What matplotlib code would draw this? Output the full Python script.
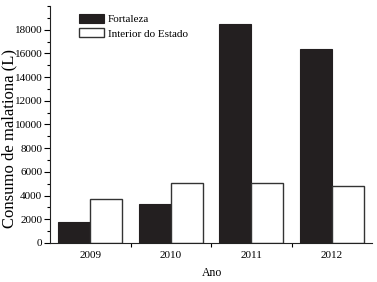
import numpy as np
import matplotlib.pyplot as plt
from matplotlib.ticker import MultipleLocator

anos = ['2009', '2010', '2011', '2012']
fortaleza = [1800, 3300, 18450, 16350]
interior = [3700, 5100, 5050, 4800]

plt.rcParams['font.family'] = 'Liberation Serif'

fig = plt.figure(figsize=(3.77, 2.82), dpi=100)
ax = fig.add_axes([50/377, 1-243/282, 322/377, 237/282])

x = np.arange(len(anos))
w = 0.4
ax.bar(x - w/2, fortaleza, w, color='#231f20', edgecolor='#231f20', linewidth=0.8, label='Fortaleza')
ax.bar(x + w/2, interior, w, color='white', edgecolor='#333333', linewidth=1.0, label='Interior do Estado')

ax.set_xlim(-0.5, len(anos) - 0.5)
ax.set_ylim(0, 20000)

ax.spines['top'].set_visible(False)
ax.spines['right'].set_visible(False)
for s in ['left', 'bottom']:
    ax.spines[s].set_linewidth(0.8)
    ax.spines[s].set_color('#222222')

# tick marks on group borders, labels at group centres
ax.set_xticks(x)
ax.set_xticklabels(anos, fontsize=8)
ax.tick_params(axis='x', which='major', length=0, pad=6)
ax.set_xticks(x[1:] - 0.5, minor=True)
ax.tick_params(axis='x', which='minor', length=3, width=0.8, direction='out')

ax.set_yticks(np.arange(0, 18001, 2000))
ax.yaxis.set_minor_locator(MultipleLocator(1000))
ax.tick_params(axis='y', which='major', length=4, width=0.8, labelsize=8, pad=1.5)
ax.tick_params(axis='y', which='minor', length=2, width=0.8)

ax.set_xlabel('Ano', fontsize=8.5)
ax.xaxis.set_label_coords((212-50)/322, -(267.5-243)/237)
ax.set_ylabel('Consumo de malationa (L)', fontsize=12)
ax.yaxis.set_label_coords(-0.102, 0.443)

ax.legend(loc='upper left', bbox_to_anchor=(0.065, 1.0), frameon=False, fontsize=8,
          handlelength=2.3, handleheight=0.9, handletextpad=0.3, labelspacing=0.35,
          borderaxespad=0.3)

fig.savefig('out.png', dpi=100)
